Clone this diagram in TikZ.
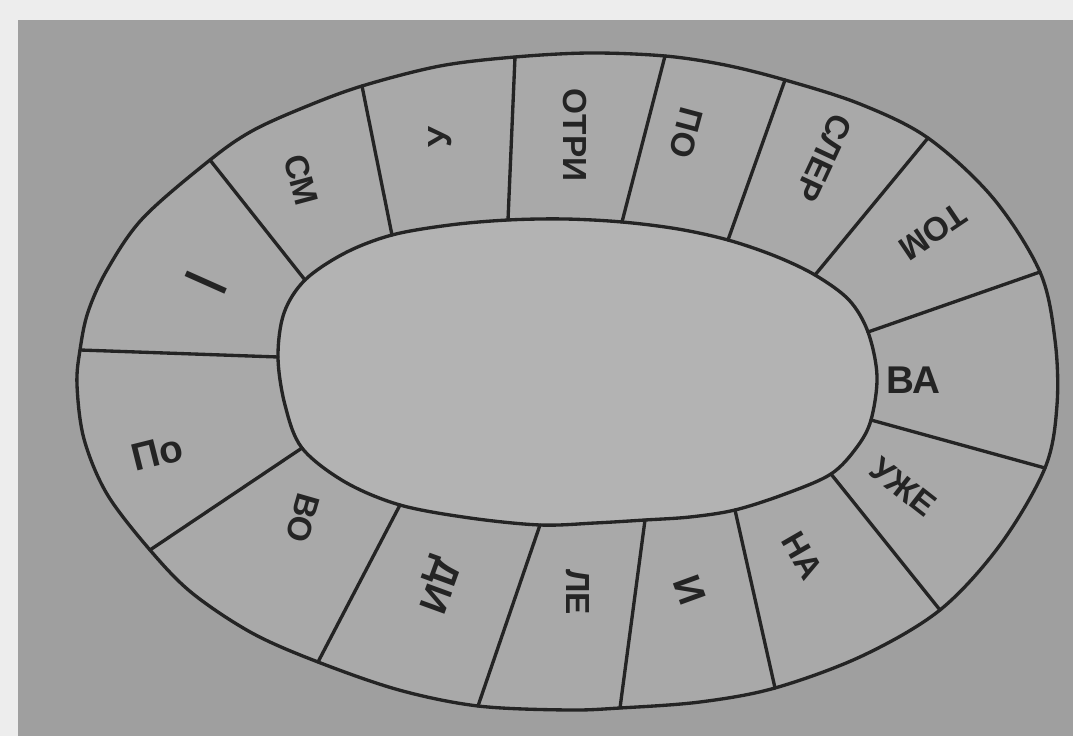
\documentclass[tikz,border=0pt]{standalone}
\usepackage{fontspec}
\setmainfont{Liberation Sans}
\definecolor{paper}{HTML}{EDEDED}
\definecolor{photo}{HTML}{9F9F9F}
\definecolor{ring}{HTML}{A9A9A9}
\definecolor{hole}{HTML}{B3B3B3}
\definecolor{ink}{HTML}{242424}
\begin{document}
\begin{tikzpicture}[x=0.02cm,y=-0.02cm,
  pen/.style={draw=ink,line width=1.9pt,line join=round,line cap=round},
  lbl/.style={font=\fontsize{19}{19}\selectfont\bfseries,text=ink,inner sep=0pt},
  big/.style={lbl,font=\fontsize{22}{22}\selectfont\bfseries}]
\useasboundingbox (0,0) rectangle (1073,736);
\fill[paper] (0,0) rectangle (1073,736);
\fill[photo] (18,20) rectangle (1073,736);
% divider end points: inner i*, outer o*
\coordinate (i1) at (278,357);  \coordinate (o1) at (80,350);
\coordinate (i2) at (305,280);  \coordinate (o2) at (210,160);
\coordinate (i3) at (392,235);  \coordinate (o3) at (362,86);
\coordinate (i4) at (508,220);  \coordinate (o4) at (515,57);
\coordinate (i5) at (622,222);  \coordinate (o5) at (665,56);
\coordinate (i6) at (728,240);  \coordinate (o6) at (785,80);
\coordinate (i7) at (815,275);  \coordinate (o7) at (928,138);
\coordinate (i8) at (868,332);  \coordinate (o8) at (1040,272);
\coordinate (i9) at (871,420);  \coordinate (o9) at (1045,468);
\coordinate (i10) at (831,474); \coordinate (o10) at (940,610);
\coordinate (i11) at (735,510); \coordinate (o11) at (775,688);
\coordinate (i12) at (645,520); \coordinate (o12) at (620,708);
\coordinate (i13) at (540,525); \coordinate (o13) at (478,706);
\coordinate (i14) at (400,505); \coordinate (o14) at (318,662);
\coordinate (i15) at (302,448); \coordinate (o15) at (150,550);
% outer rim
\path[pen,fill=ring] plot[smooth cycle,tension=0.55] coordinates {
  (77,385) (o1) (88,312) (107,270) (143,218) (o2) (252,131) (305,107) (o3)
  (440,66) (o4) (590,53) (o5) (725,65) (o6) (860,104) (o7) (993,198) (o8)
  (1055,340) (1057,405) (o9) (1000,545) (o10) (862,656) (o11) (700,702)
  (o12) (567,710) (o13) (399,690) (o14) (252,633) (192,593) (o15)
  (107,494) (84,439)};
% inner field
\path[pen,fill=hole] plot[smooth cycle,tension=0.55] coordinates {
  (i1) (284,313) (i2) (345,253) (i3) (450,225) (i4) (565,219) (i5)
  (678,229) (i6) (775,256) (i7) (849,300) (i8) (877,376) (i9) (857,447)
  (i10) (785,494) (i11) (690,517) (i12) (595,523) (i13) (470,518) (i14)
  (345,482) (i15) (285,405)};
% dividers
\foreach \k in {1,...,15} {\draw[pen] (i\k) -- (o\k);}
% labels
\node[lbl,font=\fontsize{36}{36}\selectfont,rotate=66] (t1) at (206,283) {I};
\node[lbl,rotate=-75] (t2) at (301,180) {СМ};
\node[lbl,rotate=90] (t3) at (440,137) {У};
\node[lbl,rotate=-90] (t4) at (575,135) {ОТРИ};
\node[lbl,rotate=-105] (t5) at (686,133) {ПО};
\node[lbl,rotate=-115] (t6) at (824,158) {СЛЕР};
\node[lbl,rotate=-146] (t7) at (933,232) {ТОМ};
\node[big] (t8) at (913,380) {ВА};
\node[lbl,rotate=-38] (t9) at (903,487) {УЖЕ};
\node[lbl,rotate=-60] (t10) at (802,556) {НА};
\node[big,rotate=-70] (t11) at (690,590) {И};
\node[lbl,rotate=-90] (t12) at (578,592) {ЛЕ};
\node[big,rotate=-110] (t13) at (437,585) {ДИ};
\node[lbl,rotate=-106] (t14) at (303,518) {ВО};
\node[big,rotate=14] (t15) at (157,453) {По};
\end{tikzpicture}
\end{document}
